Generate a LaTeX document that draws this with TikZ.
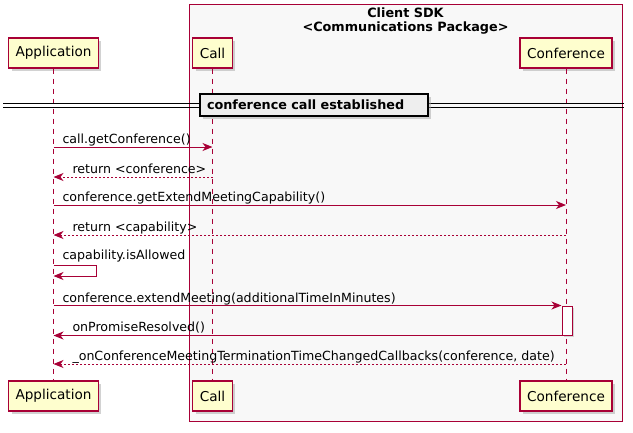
\documentclass[tikz,border=0pt]{standalone}
\usepackage{fontspec}
\setmainfont{DejaVu Sans}
\usepackage{xcolor}
\usetikzlibrary{arrows.meta, shadows}

\definecolor{umlred}{HTML}{A80036}
\definecolor{umlyellow}{HTML}{FEFECE}
\definecolor{pkggrey}{HTML}{F8F8F8}
\definecolor{divgrey}{HTML}{EEEEEE}

\begin{document}
\begin{tikzpicture}[x=1pt, y=-1pt, font=\fontsize{12.6}{14}\selectfont, line width=1pt,
  actor/.style={draw=umlred, line width=1.3pt, fill=umlyellow, minimum height=30pt, inner xsep=7pt,
    font=\fontsize{13.6}{15}\selectfont,
    drop shadow={shadow xshift=3pt, shadow yshift=-3pt, fill=black!35}},
  lifeline/.style={umlred, dash pattern=on 5pt off 5pt},
  msg/.style={umlred, -{Stealth[length=10pt, width=8pt, inset=3pt]}},
  reply/.style={msg, dash pattern=on 2pt off 2pt},
  lbl/.style={inner sep=0pt, anchor=base west}]
  \useasboundingbox (0,0) rectangle (633,432);

  % package box
  \draw[umlred, line width=1pt, fill=pkggrey] (189,4) rectangle (622,421);
  \node[font=\fontsize{12.8}{14}\selectfont\bfseries, align=center, anchor=north, inner sep=1pt]
    (pkg) at (405.5,6.5) {Client SDK\\<Communications Package>};

  % participants
  \node[actor] (app)   at (53.5,53)  {Application};
  \node[actor] (call)  at (212.5,53) {Call};
  \node[actor] (conf)  at (566,53)   {Conference};
  \node[actor] (app2)  at (53.5,396) {Application};
  \node[actor] (call2) at (212.5,396) {Call};
  \node[actor] (conf2) at (566,396)  {Conference};

  \draw[lifeline] (app) -- (app2);
  \draw[lifeline] (call) -- (call2);
  \draw[lifeline] (conf) -- (conf2);

  % divider
  \draw (3,103) -- (624,103);
  \draw (3,107) -- (624,107);
  \node[draw, line width=2pt, fill=divgrey, anchor=west, text width=214pt, inner xsep=7pt,
    minimum height=22pt, align=left, font=\fontsize{12.8}{14}\selectfont\bfseries,
    drop shadow={shadow xshift=3pt, shadow yshift=-3pt, fill=black!35}]
    (div) at (199,105) {conference call established};

  % messages
  \draw[msg] (app |- 0,147) -- (call |- 0,147);
  \node[lbl] (m1) at (62,143) {call.getConference()};
  \draw[reply] (call |- 0,177) -- (app |- 0,177);
  \node[lbl] (m2) at (72,173) {return <conference>};
  \draw[msg] (app |- 0,205) -- (conf |- 0,205);
  \node[lbl] (m3) at (62,201) {conference.getExtendMeetingCapability()};
  \draw[reply] (conf |- 0,235) -- (app |- 0,235);
  \node[lbl] (m4) at (72,231) {return <capability>};
  \node[lbl] (m5) at (62,259) {capability.isAllowed};
  \draw[msg] (app |- 0,265) -| (96,276) -- (app |- 0,276);

  \node[draw=umlred, fill=white, minimum width=10pt, minimum height=29pt, inner sep=0pt,
    drop shadow={shadow xshift=2pt, shadow yshift=-2pt, fill=black!30}]
    (act) at (567,320.5) {};
  \draw[msg] (app |- act.north west) -- (act.north west);
  \node[lbl] (m6) at (62,302) {conference.extendMeeting(additionalTimeInMinutes)};
  \draw[msg] (act.south west) -- (app |- act.south west);
  \node[lbl] (m7) at (72,331) {onPromiseResolved()};
  \draw[reply] (conf |- 0,364) -- (app |- 0,364);
  \node[lbl] (m8) at (72,360) {\_onConferenceMeetingTerminationTimeChangedCallbacks(conference, date)};
\end{tikzpicture}
\end{document}
